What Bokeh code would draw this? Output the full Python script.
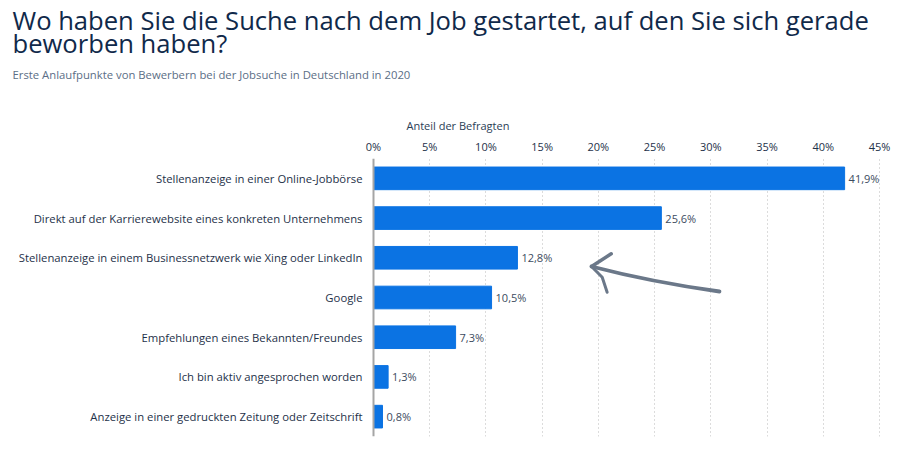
from bokeh.plotting import figure
from bokeh.models import FactorRange, Range1d, FixedTicker, PrintfTickFormatter, Span
from bokeh.layouts import column
from bokeh.embed import file_html
from bokeh.resources import INLINE
from bokeh.core.properties import value

# ---- data ----
categories = [
    "Stellenanzeige in einer Online-Jobbörse",
    "Direkt auf der Karrierewebsite eines konkreten Unternehmens",
    "Stellenanzeige in einem Businessnetzwerk wie Xing oder LinkedIn",
    "Google",
    "Empfehlungen eines Bekannten/Freundes",
    "Ich bin aktiv angesprochen worden",
    "Anzeige in einer gedruckten Zeitung oder Zeitschrift",
]
shares = [41.9, 25.6, 12.8, 10.5, 7.3, 1.3, 0.8]
value_labels = [f"{v:.1f}%".replace(".", ",") for v in shares]
x_ticks = [0, 5, 10, 15, 20, 25, 30, 35, 40, 45]

title_line1 = "Wo haben Sie die Suche nach dem Job gestartet, auf den Sie sich gerade"
title_line2 = "beworben haben?"
subtitle = "Erste Anlaufpunkte von Bewerbern bei der Jobsuche in Deutschland in 2020"
axis_title = "Anteil der Befragten"

# hand-drawn arrow (annotation) in data / synthetic coords
arrow_shaft = dict(x0=30.77, y0=3.651, x1=19.39, y1=4.281, cx=24.72, cy=3.890)
arrow_upper_x = [21.14, 19.39]
arrow_upper_y = [4.600, 4.281]
arrow_lower_x = [19.39, 20.34, 20.78]
arrow_lower_y = [4.281, 4.011, 3.633]

FONT = "Open Sans"
BAR = "#0b73e3"
W = 894
HEAD_H = 135
CHART_H = 317
PLOT_LEFT = 373      # pixel where 0 % sits
PX_PER_PCT = 11.244

# ---- header (titles) ----
head = figure(width=W, height=HEAD_H, x_range=Range1d(0, W), y_range=Range1d(HEAD_H, 0),
              x_axis_type=None, y_axis_type=None, output_backend="svg",
              toolbar_location=None, min_border=0, title=None)
head.outline_line_color = None
head.grid.visible = False

head.text(x=[12, 12], y=[20, 42.5], text=[title_line1, title_line2],
          text_font=value(FONT), text_font_size="25.6px", text_color="#10294a",
          text_baseline="middle", text_align="left")
head.text(x=[12], y=[73.5], text=[subtitle],
          text_font=value(FONT), text_font_size="11.3px", text_color="#5b6e86",
          text_baseline="middle", text_align="left")
head.text(x=[406], y=[125], text=[axis_title],
          text_font=value(FONT), text_font_size="11px", text_color="#2b3e56",
          text_baseline="middle", text_align="left")

# ---- chart ----
p = figure(
    width=W, height=CHART_H,
    y_range=FactorRange(factors=categories[::-1], range_padding=0),
    x_range=Range1d(-PLOT_LEFT / PX_PER_PCT, (W - PLOT_LEFT) / PX_PER_PCT),
    x_axis_location="above", y_axis_type=None, title=None,
    output_backend="svg", toolbar_location=None,
    min_border_left=0, min_border_right=0,
    min_border_top=23, min_border_bottom=16,
)
p.outline_line_color = None

p.hbar(y=categories, right=shares, left=0, height=0.57, color=BAR)
p.text(x=shares, y=categories, text=value_labels, x_offset=4,
       text_baseline="middle", text_align="left",
       text_font=value(FONT), text_font_size="11px", text_color="#3c4b5e")

# category labels (left of the 0 baseline)
p.text(x=[0] * len(categories), y=categories, text=categories, x_offset=-11,
       text_baseline="middle", text_align="right",
       text_font=value(FONT), text_font_size="11.3px", text_color="#1e3149")

# baseline (vertical axis line)
p.add_layout(Span(location=0, dimension="height", line_color="#a5a5a5", line_width=2))

# arrow
AC = "#6b7889"
p.quadratic(**arrow_shaft, line_color=AC, line_width=3.8, line_cap="round")
p.line(arrow_upper_x, arrow_upper_y, line_color=AC, line_width=3.5, line_cap="round")
p.line(arrow_lower_x, arrow_lower_y, line_color=AC, line_width=3, line_cap="round", line_join="round")

# x axis on top
xa = p.xaxis[0]
xa.ticker = FixedTicker(ticks=x_ticks)
xa.formatter = PrintfTickFormatter(format="%d%%")
xa.axis_line_color = None
xa.major_tick_line_color = None
xa.minor_tick_line_color = None
xa.major_label_standoff = -1
xa.major_label_text_font = FONT
xa.major_label_text_font_size = "11px"
xa.major_label_text_color = "#1e3149"

p.xgrid.ticker = FixedTicker(ticks=x_ticks[1:])
p.xgrid.grid_line_color = "#b8b8b8"
p.xgrid.grid_line_dash = "1 3"
p.ygrid.visible = False

layout = column(head, p, spacing=0)
open("out.html", "w").write(file_html(layout, INLINE))
